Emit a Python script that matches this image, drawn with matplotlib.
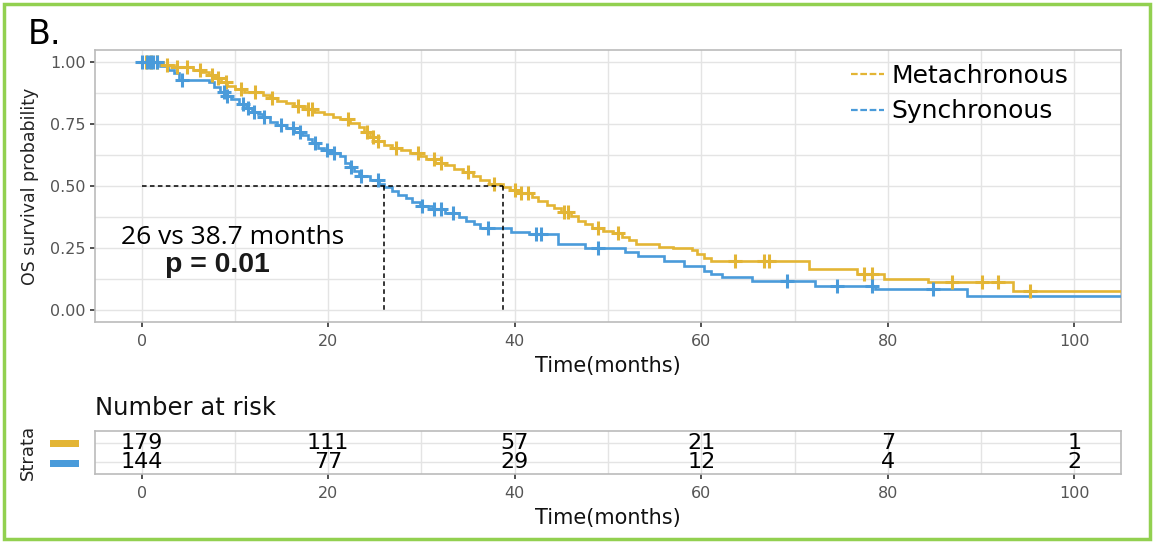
import numpy as np
import matplotlib
matplotlib.use("Agg")
import matplotlib.pyplot as plt
from matplotlib.lines import Line2D
from matplotlib.patches import Rectangle
from matplotlib.ticker import MultipleLocator, FixedLocator

# ---------------- data ----------------
groups = ["Metachronous", "Synchronous"]
colors = ["#E3B535", "#4A9BDA"]

meta_times = [0, 2.3, 3.5, 5.5, 6.5, 7.2, 7.8, 8.5, 9.2, 10, 11, 13, 13.8, 14.5, 15.5, 16.3,
              17.5, 18.5, 19.5, 20.5, 21.3, 22.3, 23.3, 23.8, 24.5, 25.3, 26, 26.8, 27.8,
              28.8, 29.8, 30.5, 31.5, 32.5, 33.5, 34.5, 35.5, 36.3, 37.2, 38.7, 39.5, 40.2,
              41.8, 42.5, 43.5, 44.2, 45, 46, 46.8, 47.5, 48.3, 49.5, 50.5, 51.5, 52.3, 53,
              55.5, 57, 59, 59.5, 60.3, 61, 71.5, 76.7, 79.6, 84.3, 93.4]
meta_surv = [1.0, 0.99, 0.98, 0.97, 0.96, 0.95, 0.935, 0.92, 0.905, 0.893, 0.88, 0.87, 0.855,
             0.845, 0.835, 0.822, 0.81, 0.80, 0.79, 0.78, 0.77, 0.755, 0.74, 0.72, 0.70, 0.68,
             0.665, 0.655, 0.645, 0.635, 0.62, 0.61, 0.595, 0.585, 0.57, 0.555, 0.54, 0.525,
             0.51, 0.495, 0.485, 0.472, 0.455, 0.44, 0.425, 0.41, 0.395, 0.38, 0.36, 0.345,
             0.33, 0.32, 0.31, 0.295, 0.28, 0.265, 0.255, 0.248, 0.24, 0.225, 0.21, 0.195,
             0.165, 0.145, 0.125, 0.11, 0.074]
meta_censor = [0.5, 1.0, 1.6, 2.7, 3.8, 4.9, 6.3, 7.5, 8.2, 9.0, 10.6, 12.2, 14.0, 16.8, 17.8,
               18.3, 22.1, 24.2, 24.8, 25.3, 27.3, 29.6, 31.3, 32.1, 35.0, 37.8, 40.0, 40.7,
               41.4, 45.3, 45.7, 48.9, 51.1, 63.6, 66.7, 67.3, 77.5, 78.3, 86.9, 90.1, 91.8, 95.2]

sync_times = [0, 2.0, 2.8, 3.5, 4.0, 7.2, 7.8, 8.4, 9.0, 9.6, 10.4, 11.2, 11.8, 12.5, 13, 13.8,
              14.5, 15.5, 16.3, 17.2, 17.8, 18.3, 18.9, 19.5, 20.2, 21.3, 21.8, 22.3, 22.8,
              23.3, 24.5, 25.5, 26, 26.8, 27.5, 28.3, 29, 29.8, 31.2, 32.5, 34, 34.8, 35.6,
              36.3, 39.6, 41.5, 44.6, 47.5, 51.8, 53.2, 56, 58.2, 60.3, 61, 62.2, 65.4, 72.2,
              78.6, 88.5]
sync_surv = [1.0, 0.985, 0.97, 0.955, 0.93, 0.92, 0.90, 0.88, 0.865, 0.85, 0.83, 0.815, 0.80,
             0.79, 0.78, 0.76, 0.745, 0.735, 0.72, 0.705, 0.69, 0.675, 0.655, 0.645, 0.635,
             0.62, 0.595, 0.575, 0.56, 0.54, 0.525, 0.51, 0.495, 0.48, 0.465, 0.45, 0.435,
             0.42, 0.405, 0.39, 0.375, 0.36, 0.345, 0.33, 0.315, 0.305, 0.265, 0.25, 0.235,
             0.215, 0.195, 0.175, 0.155, 0.145, 0.133, 0.117, 0.097, 0.084, 0.057]
sync_censor = [0, 0.6, 0.9, 1.2, 1.6, 4.3, 8.8, 9.2, 10.9, 11.4, 12.0, 13.1, 14.9, 16.2, 17.0,
               18.6, 19.9, 20.6, 22.4, 23.5, 25.3, 30.1, 31.3, 32.1, 33.4, 37.1, 42.3, 42.8,
               48.9, 69.2, 74.5, 78.3, 84.8]

end_time = 106
medians = [38.7, 26]

y_ticks = [0.0, 0.25, 0.5, 0.75, 1.0]
y_ticklabels = ["0.00", "0.25", "0.50", "0.75", "1.00"]

risk_times = [0, 20, 40, 60, 80, 100]
risk_meta = [179, 111, 57, 21, 7, 1]
risk_sync = [144, 77, 29, 12, 4, 2]

# ---------------- layout ----------------
W, H = 1158, 546
fig = plt.figure(figsize=(W / 100, H / 100), dpi=100)
fig.patch.set_facecolor("white")


def rect(l, t, r, b):
    return [l / W, 1 - b / H, (r - l) / W, (b - t) / H]


def fx(x):
    return x / W


def fy(y):
    return 1 - y / H


grid_c = "#E4E4E4"
border_c = "#BBBBBB"
tick_c = "#555555"

ax = fig.add_axes(rect(95, 50, 1121, 322))
axt = fig.add_axes(rect(95, 431, 1121, 474))

for a in (ax, axt):
    a.set_xlim(-5, 105)
    a.xaxis.set_major_locator(MultipleLocator(20))
    a.xaxis.set_minor_locator(MultipleLocator(10))
    a.grid(True, which="both", axis="x", color=grid_c, lw=1.0)
    for s in a.spines.values():
        s.set_color(border_c)
        s.set_linewidth(1.2)
    a.tick_params(axis="x", which="major", length=3.5, width=1.2, color="#333333",
                  labelsize=11.5, labelcolor=tick_c, pad=5)
    a.tick_params(axis="x", which="minor", length=0)
    a.set_axisbelow(True)

ax.set_ylim(-0.05, 1.05)
ax.set_yticks(y_ticks)
ax.set_yticklabels(y_ticklabels)
ax.yaxis.set_minor_locator(FixedLocator([0.125, 0.375, 0.625, 0.875]))
ax.grid(True, which="both", axis="y", color=grid_c, lw=1.0)
ax.tick_params(axis="y", which="major", length=3.5, width=1.2, color="#333333",
               labelsize=11.5, labelcolor=tick_c, pad=3)
ax.tick_params(axis="y", which="minor", length=0)

# curves
series = [(meta_times, meta_surv, meta_censor), (sync_times, sync_surv, sync_censor)]
for (t, s, c), col, lab in zip(series, colors, groups):
    t = np.asarray(t, float)
    s = np.asarray(s, float)
    ax.step(np.r_[t, end_time], np.r_[s, s[-1]], where="post", color=col, lw=1.9,
            zorder=3, solid_joinstyle="miter")
    c = np.asarray(c, float)
    idx = np.searchsorted(t, c, side="right") - 1
    ax.plot(c, s[idx], ls="none", marker="+", ms=10, mew=2.2, color=col, zorder=4)

# median lines
ax.plot([0, max(medians)], [0.5, 0.5], ls=(0, (3, 2.2)), color="black", lw=1.1, zorder=5)
for m in medians:
    ax.plot([m, m], [0.5, 0], ls=(0, (3, 2.2)), color="black", lw=1.1, zorder=5)

ax.set_xlabel("Time(months)", fontsize=15, labelpad=5, color="#111111")
ax.set_ylabel("OS survival probability", fontsize=12.5, labelpad=8, color="#222222")

# legend
handles = [Line2D([], [], color=c, lw=1.6, ls=(0, (3, 1.2))) for c in colors]
ax.legend(handles, groups, loc="upper left", bbox_to_anchor=(fx(851), fy(64)),
          bbox_transform=fig.transFigure, frameon=False, fontsize=18, handlelength=1.3,
          handletextpad=0.3, labelspacing=0.45, borderpad=0, borderaxespad=0)

# annotation
fig.text(fx(121), fy(238), "26 vs 38.7 months", fontsize=19, family="Open Sans",
         va="center", ha="left", color="black")
fig.text(fx(165), fy(265), "p = 0.01", fontsize=20.5, family="Liberation Sans",
         fontweight="bold", va="center", ha="left", color="#1a1a1a")

# risk table
axt.set_ylim(0.4, 2.6)
axt.set_yticks([1, 2])
axt.set_yticklabels([])
axt.tick_params(axis="y", length=0)
axt.grid(True, axis="y", color=grid_c, lw=1.0)
for tt, n1, n2 in zip(risk_times, risk_meta, risk_sync):
    axt.text(tt, 2, str(n1), ha="center", va="center", fontsize=16, color="black")
    axt.text(tt, 1, str(n2), ha="center", va="center", fontsize=16, color="black")
axt.set_xlabel("Time(months)", fontsize=15, labelpad=5, color="#111111")

fig.text(fx(95), fy(408), "Number at risk", fontsize=17.5, ha="left", va="center", color="#111111")
fig.text(fx(28), fy(452), "Strata", fontsize=13, rotation=90, ha="center", va="center",
         color="#222222")
for yc, col in zip([443.5, 463], colors):
    fig.patches.append(Rectangle((fx(50), fy(yc + 3.5)), 29 / W, 7 / H, transform=fig.transFigure,
                                 facecolor=col, edgecolor="none"))

# panel label
fig.text(fx(28), fy(34), "B.", fontsize=24, ha="left", va="center", color="black")

# green frame
fig.patches.append(Rectangle((fx(4), fy(539)), 1146 / W, 535 / H, transform=fig.transFigure,
                             facecolor="none", edgecolor="#92D050", lw=2.5))

fig.savefig("out.png", dpi=100, facecolor="white")
